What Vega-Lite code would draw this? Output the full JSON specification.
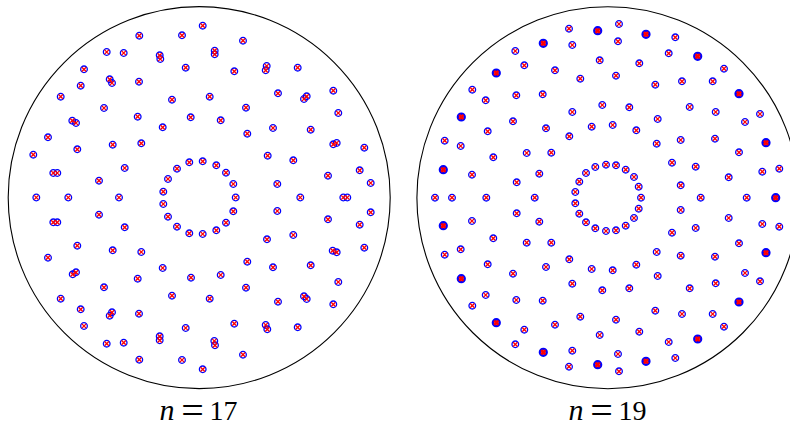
{
  "$schema": "https://vega.github.io/schema/vega-lite/v6.json",
  "width": 790,
  "height": 424,
  "padding": 0,
  "autosize": {"type": "none"},
  "background": "white",
  "config": {"view": {"stroke": null}},
  "datasets": {
    "discs": [
      {"n": 17, "x": 199.2, "y": 197.6},
      {"n": 19, "x": 607.9, "y": 197.7}
    ],
    "labels": [
      {"n": 17, "xn": 167, "xe": 192.5, "xd": 223.5, "y": 420, "num": "17"},
      {"n": 19, "xn": 576, "xe": 601.5, "xd": 632.5, "y": 420, "num": "19"}
    ],
    "points": [
      {"n":17,"x":202.7,"y":25.7,"m":1},{"n":17,"x":139.3,"y":35.7,"m":1},{"n":17,"x":182,"y":35.3,"m":1},{"n":17,"x":243,"y":40.7,"m":1},
      {"n":17,"x":106.7,"y":52,"m":1},{"n":17,"x":123.7,"y":53,"m":1},{"n":17,"x":159.7,"y":55.3,"m":1},{"n":17,"x":160.3,"y":59,"m":1},
      {"n":17,"x":214.7,"y":50.7,"m":1},{"n":17,"x":214.7,"y":54.3,"m":1},{"n":17,"x":84,"y":69.3,"m":1},{"n":17,"x":185.7,"y":67.7,"m":1},
      {"n":17,"x":234.3,"y":71.3,"m":1},{"n":17,"x":266.7,"y":66,"m":1},{"n":17,"x":265.7,"y":70.3,"m":1},{"n":17,"x":297.7,"y":67.7,"m":1},
      {"n":17,"x":80.7,"y":85.7,"m":1},{"n":17,"x":109.7,"y":79.3,"m":1},{"n":17,"x":112,"y":83,"m":1},{"n":17,"x":139,"y":81.7,"m":1},
      {"n":17,"x":60.7,"y":96.7,"m":1},{"n":17,"x":172,"y":99.7,"m":1},{"n":17,"x":209.7,"y":96.7,"m":1},{"n":17,"x":246,"y":107.7,"m":1},
      {"n":17,"x":278,"y":93.3,"m":1},{"n":17,"x":306.7,"y":96.3,"m":1},{"n":17,"x":304,"y":99,"m":1},{"n":17,"x":333.3,"y":90.7,"m":1},
      {"n":17,"x":338.3,"y":113,"m":1},{"n":17,"x":104,"y":108,"m":1},{"n":17,"x":137.7,"y":116.7,"m":1},{"n":17,"x":72.3,"y":120.7,"m":1},
      {"n":17,"x":76,"y":123,"m":1},{"n":17,"x":48,"y":137.3,"m":1},{"n":17,"x":77.3,"y":149.3,"m":1},{"n":17,"x":112.7,"y":144.7,"m":1},
      {"n":17,"x":141.3,"y":143.3,"m":1},{"n":17,"x":162.7,"y":127.3,"m":1},{"n":17,"x":190.7,"y":117.3,"m":1},{"n":17,"x":220.7,"y":120.3,"m":1},
      {"n":17,"x":247.3,"y":133.7,"m":1},{"n":17,"x":273,"y":128,"m":1},{"n":17,"x":310.7,"y":129.7,"m":1},{"n":17,"x":333.3,"y":144.3,"m":1},
      {"n":17,"x":336.7,"y":143,"m":1},{"n":17,"x":364.3,"y":147.7,"m":1},{"n":17,"x":33.3,"y":154.7,"m":1},{"n":17,"x":53.3,"y":173,"m":1},
      {"n":17,"x":57.3,"y":173,"m":1},{"n":17,"x":99,"y":180.7,"m":1},{"n":17,"x":124.7,"y":168,"m":1},{"n":17,"x":267.7,"y":155.7,"m":1},
      {"n":17,"x":293.3,"y":160.3,"m":1},{"n":17,"x":328,"y":175.7,"m":1},{"n":17,"x":359.7,"y":170.3,"m":1},{"n":17,"x":370.7,"y":183,"m":1},
      {"n":17,"x":277.3,"y":184,"m":1},{"n":17,"x":36.3,"y":197.5,"m":1},{"n":17,"x":68.3,"y":197.5,"m":1},{"n":17,"x":119,"y":197.5,"m":1},
      {"n":17,"x":300.3,"y":197.5,"m":1},{"n":17,"x":343.3,"y":197.5,"m":1},{"n":17,"x":347.3,"y":197.5,"m":1},
      {"n":17,"x":163.3,"y":191.7,"m":1},{"n":17,"x":168,"y":179,"m":1},{"n":17,"x":177,"y":168.7,"m":1},{"n":17,"x":189.3,"y":162.3,"m":1},
      {"n":17,"x":202.7,"y":161.3,"m":1},{"n":17,"x":216.3,"y":165.3,"m":1},{"n":17,"x":226,"y":172.7,"m":1},{"n":17,"x":233.3,"y":184,"m":1},
      {"n":17,"x":235.7,"y":197.5,"m":1},
      {"n":17,"x":163.3,"y":204,"m":1},{"n":17,"x":168,"y":216.7,"m":1},{"n":17,"x":177,"y":226.7,"m":1},{"n":17,"x":189.3,"y":233.3,"m":1},
      {"n":17,"x":202.7,"y":234,"m":1},{"n":17,"x":216.3,"y":230.3,"m":1},{"n":17,"x":226,"y":222.7,"m":1},{"n":17,"x":233.3,"y":211.3,"m":1},
      {"n":17,"x":99,"y":214.7,"m":1},{"n":17,"x":53.3,"y":222.3,"m":1},{"n":17,"x":57.3,"y":222.3,"m":1},{"n":17,"x":277.3,"y":211,"m":1},
      {"n":17,"x":328,"y":219.3,"m":1},{"n":17,"x":359.7,"y":224.7,"m":1},{"n":17,"x":370.7,"y":212.3,"m":1},{"n":17,"x":124.7,"y":227.3,"m":1},
      {"n":17,"x":293.3,"y":235,"m":1},{"n":17,"x":267,"y":239.3,"m":1},{"n":17,"x":77.3,"y":245.7,"m":1},{"n":17,"x":48,"y":257.7,"m":1},
      {"n":17,"x":112.7,"y":250.3,"m":1},{"n":17,"x":141.3,"y":252,"m":1},{"n":17,"x":332.7,"y":250.7,"m":1},{"n":17,"x":336.7,"y":252.3,"m":1},
      {"n":17,"x":364.3,"y":247.7,"m":1},{"n":17,"x":72.7,"y":274.3,"m":1},{"n":17,"x":76,"y":272.3,"m":1},{"n":17,"x":137.7,"y":278.7,"m":1},
      {"n":17,"x":162.7,"y":268,"m":1},{"n":17,"x":191,"y":277.7,"m":1},{"n":17,"x":220.7,"y":275,"m":1},{"n":17,"x":247.3,"y":261.7,"m":1},
      {"n":17,"x":273,"y":267.3,"m":1},{"n":17,"x":310.7,"y":265.3,"m":1},{"n":17,"x":104,"y":287.3,"m":1},{"n":17,"x":246,"y":287.7,"m":1},
      {"n":17,"x":338.3,"y":282,"m":1},{"n":17,"x":60.7,"y":298.7,"m":1},{"n":17,"x":172,"y":295.7,"m":1},{"n":17,"x":209.7,"y":298.7,"m":1},
      {"n":17,"x":278,"y":301.7,"m":1},{"n":17,"x":304,"y":296.3,"m":1},{"n":17,"x":306.7,"y":299,"m":1},{"n":17,"x":333.3,"y":304.3,"m":1},
      {"n":17,"x":80.7,"y":309.3,"m":1},{"n":17,"x":109.7,"y":315.7,"m":1},{"n":17,"x":112,"y":312.3,"m":1},{"n":17,"x":139,"y":313.7,"m":1},
      {"n":17,"x":84,"y":326,"m":1},{"n":17,"x":185.7,"y":328,"m":1},{"n":17,"x":234.3,"y":323.7,"m":1},{"n":17,"x":265.7,"y":325,"m":1},
      {"n":17,"x":267.3,"y":329.3,"m":1},{"n":17,"x":297.7,"y":327.3,"m":1},{"n":17,"x":106.7,"y":343.7,"m":1},{"n":17,"x":123.7,"y":342.7,"m":1},
      {"n":17,"x":159.7,"y":336.3,"m":1},{"n":17,"x":159.7,"y":340.3,"m":1},{"n":17,"x":214.3,"y":341,"m":1},{"n":17,"x":215,"y":345.3,"m":1},
      {"n":17,"x":243,"y":354.7,"m":1},{"n":17,"x":139.3,"y":359.7,"m":1},{"n":17,"x":182,"y":360,"m":1},{"n":17,"x":202.7,"y":369.3,"m":1},

      {"n":19,"x":619,"y":24,"m":1},{"n":19,"x":569,"y":28.7,"m":1},{"n":19,"x":597.7,"y":30.7,"m":2},{"n":19,"x":646,"y":34.3,"m":2},
      {"n":19,"x":675.3,"y":37.3,"m":1},{"n":19,"x":543.3,"y":43.3,"m":2},{"n":19,"x":572.3,"y":45,"m":1},{"n":19,"x":618,"y":41.3,"m":1},
      {"n":19,"x":515.3,"y":51,"m":1},{"n":19,"x":668.7,"y":53.3,"m":1},{"n":19,"x":697.7,"y":56.3,"m":2},{"n":19,"x":524.3,"y":65.3,"m":1},
      {"n":19,"x":599.7,"y":60.3,"m":1},{"n":19,"x":639.3,"y":63.3,"m":1},{"n":19,"x":724,"y":68.7,"m":1},{"n":19,"x":496.3,"y":73,"m":2},
      {"n":19,"x":555,"y":70.3,"m":1},{"n":19,"x":580.3,"y":78.7,"m":1},{"n":19,"x":616,"y":75.7,"m":1},{"n":19,"x":472.3,"y":89.7,"m":1},
      {"n":19,"x":485.7,"y":100.3,"m":1},{"n":19,"x":516.3,"y":95.3,"m":1},{"n":19,"x":542.7,"y":94.3,"m":1},{"n":19,"x":655.3,"y":84.7,"m":1},
      {"n":19,"x":682,"y":81.3,"m":1},{"n":19,"x":712.7,"y":81.3,"m":1},{"n":19,"x":739,"y":93.7,"m":2},{"n":19,"x":461.3,"y":117,"m":2},
      {"n":19,"x":572.3,"y":112,"m":1},{"n":19,"x":602.3,"y":105,"m":1},{"n":19,"x":629.3,"y":107.3,"m":1},{"n":19,"x":689.7,"y":107,"m":1},
      {"n":19,"x":715.7,"y":112,"m":1},{"n":19,"x":760,"y":114,"m":1},{"n":19,"x":513,"y":121.3,"m":1},{"n":19,"x":487.7,"y":131.3,"m":1},
      {"n":19,"x":546,"y":128.3,"m":1},{"n":19,"x":591.7,"y":126.7,"m":1},{"n":19,"x":612.7,"y":125,"m":1},{"n":19,"x":636.3,"y":130.3,"m":1},
      {"n":19,"x":657.7,"y":119,"m":1},{"n":19,"x":745,"y":122,"m":1},{"n":19,"x":444.7,"y":140.7,"m":1},{"n":19,"x":460.7,"y":146,"m":1},
      {"n":19,"x":569.3,"y":136.3,"m":1},{"n":19,"x":656.7,"y":143.7,"m":1},{"n":19,"x":680.7,"y":140,"m":1},{"n":19,"x":715,"y":138.7,"m":1},
      {"n":19,"x":766,"y":142.7,"m":2},{"n":19,"x":493.3,"y":157.3,"m":1},{"n":19,"x":526.7,"y":153,"m":1},{"n":19,"x":551.3,"y":152.7,"m":1},
      {"n":19,"x":739,"y":152.3,"m":1},{"n":19,"x":443.3,"y":169.7,"m":2},{"n":19,"x":472,"y":174.7,"m":1},{"n":19,"x":539.3,"y":173.7,"m":1},
      {"n":19,"x":672,"y":162.7,"m":1},{"n":19,"x":695.7,"y":166.7,"m":1},{"n":19,"x":728.7,"y":177.3,"m":1},{"n":19,"x":762.3,"y":171.7,"m":1},
      {"n":19,"x":779.3,"y":168.7,"m":1},{"n":19,"x":516.7,"y":182.3,"m":1},{"n":19,"x":680.7,"y":185.3,"m":1},
      {"n":19,"x":435,"y":197.7,"m":1},{"n":19,"x":452,"y":197.7,"m":1},{"n":19,"x":486.3,"y":197.7,"m":1},{"n":19,"x":534.7,"y":197.7,"m":1},
      {"n":19,"x":700.7,"y":197.7,"m":1},{"n":19,"x":746.7,"y":197.7,"m":1},{"n":19,"x":775.7,"y":197.7,"m":2},
      {"n":19,"x":575.3,"y":192,"m":1},{"n":19,"x":579.3,"y":181.7,"m":1},{"n":19,"x":586,"y":173,"m":1},{"n":19,"x":595.3,"y":167,"m":1},
      {"n":19,"x":606,"y":164.7,"m":1},{"n":19,"x":616,"y":165.3,"m":1},{"n":19,"x":625.7,"y":169.7,"m":1},{"n":19,"x":634,"y":177,"m":1},
      {"n":19,"x":638.7,"y":186.7,"m":1},{"n":19,"x":641,"y":197.7,"m":1},
      {"n":19,"x":575.3,"y":203.3,"m":1},{"n":19,"x":579.3,"y":213.7,"m":1},{"n":19,"x":586,"y":222.3,"m":1},{"n":19,"x":595.3,"y":228.3,"m":1},
      {"n":19,"x":606,"y":231,"m":1},{"n":19,"x":616,"y":230.3,"m":1},{"n":19,"x":625.7,"y":225.7,"m":1},{"n":19,"x":634,"y":218,"m":1},
      {"n":19,"x":638.7,"y":208.7,"m":1},
      {"n":19,"x":516.7,"y":213.3,"m":1},{"n":19,"x":680.7,"y":210,"m":1},{"n":19,"x":443.3,"y":225.7,"m":2},{"n":19,"x":472,"y":221,"m":1},
      {"n":19,"x":539.3,"y":221.7,"m":1},{"n":19,"x":672,"y":232.7,"m":1},{"n":19,"x":695.7,"y":228,"m":1},{"n":19,"x":728.7,"y":218,"m":1},
      {"n":19,"x":762.3,"y":224,"m":1},{"n":19,"x":779.3,"y":226.7,"m":1},{"n":19,"x":493.3,"y":238.3,"m":1},{"n":19,"x":526.7,"y":242.7,"m":1},
      {"n":19,"x":551.3,"y":242.7,"m":1},{"n":19,"x":739,"y":243.3,"m":1},{"n":19,"x":444.7,"y":254.7,"m":1},{"n":19,"x":460.7,"y":249.3,"m":1},
      {"n":19,"x":569.3,"y":259.3,"m":1},{"n":19,"x":656.7,"y":252,"m":1},{"n":19,"x":680.7,"y":255.7,"m":1},{"n":19,"x":715,"y":256.7,"m":1},
      {"n":19,"x":766,"y":252.7,"m":2},{"n":19,"x":487.7,"y":264.3,"m":1},{"n":19,"x":513,"y":273.7,"m":1},{"n":19,"x":546,"y":267,"m":1},
      {"n":19,"x":591.7,"y":269,"m":1},{"n":19,"x":612.7,"y":270.3,"m":1},{"n":19,"x":636.3,"y":264.7,"m":1},{"n":19,"x":657.7,"y":276,"m":1},
      {"n":19,"x":745,"y":273,"m":1},{"n":19,"x":461.3,"y":278.7,"m":2},{"n":19,"x":572.3,"y":283.7,"m":1},{"n":19,"x":602.3,"y":290.3,"m":1},
      {"n":19,"x":629.3,"y":288.3,"m":1},{"n":19,"x":689.7,"y":288.3,"m":1},{"n":19,"x":715.7,"y":283.3,"m":1},{"n":19,"x":760,"y":281.3,"m":1},
      {"n":19,"x":739,"y":302,"m":2},{"n":19,"x":472.3,"y":305.7,"m":1},{"n":19,"x":485.7,"y":295,"m":1},{"n":19,"x":516.3,"y":300,"m":1},
      {"n":19,"x":542.7,"y":300.7,"m":1},{"n":19,"x":655.3,"y":310.7,"m":1},{"n":19,"x":682,"y":314,"m":1},{"n":19,"x":712.7,"y":314,"m":1},
      {"n":19,"x":496.3,"y":322.7,"m":2},{"n":19,"x":555,"y":324.7,"m":1},{"n":19,"x":580.3,"y":316.7,"m":1},{"n":19,"x":616,"y":319.7,"m":1},
      {"n":19,"x":524.3,"y":329.7,"m":1},{"n":19,"x":599.7,"y":335,"m":1},{"n":19,"x":639.3,"y":331.7,"m":1},{"n":19,"x":724,"y":326.7,"m":1},
      {"n":19,"x":515.3,"y":344.3,"m":1},{"n":19,"x":668.7,"y":342,"m":1},{"n":19,"x":697.7,"y":339,"m":2},{"n":19,"x":543.3,"y":352.3,"m":2},
      {"n":19,"x":572.3,"y":350.7,"m":1},{"n":19,"x":618,"y":354,"m":1},{"n":19,"x":569,"y":366.7,"m":1},{"n":19,"x":597.7,"y":364.7,"m":2},
      {"n":19,"x":646,"y":361.3,"m":2},{"n":19,"x":675.3,"y":358,"m":1},{"n":19,"x":619,"y":371.3,"m":1}
    ]
  },
  "layer": [
    {
      "data": {"name": "discs"},
      "mark": {"type": "point", "shape": "circle", "filled": false, "stroke": "black", "strokeWidth": 1.1, "opacity": 1, "size": 145924, "clip": true},
      "encoding": {
        "x": {"field": "x", "type": "quantitative", "scale": {"domain": [0, 790], "nice": false, "zero": false}, "axis": null},
        "y": {"field": "y", "type": "quantitative", "scale": {"domain": [0, 424], "nice": false, "zero": false, "reverse": true}, "axis": null}
      }
    },
    {
      "data": {"name": "points"},
      "mark": {"type": "point", "shape": "circle", "filled": false, "stroke": "#0000ff", "opacity": 1, "size": 44},
      "encoding": {
        "x": {"field": "x", "type": "quantitative", "scale": {"domain": [0, 790], "nice": false, "zero": false}, "axis": null},
        "y": {"field": "y", "type": "quantitative", "scale": {"domain": [0, 424], "nice": false, "zero": false, "reverse": true}, "axis": null},
        "strokeWidth": {"field": "m", "type": "quantitative", "scale": {"domain": [1, 2], "range": [1.3, 2.6]}, "legend": null}
      }
    },
    {
      "data": {"name": "points"},
      "mark": {"type": "point", "shape": "M-1,-1L1,1M-1,1L1,-1", "filled": false, "stroke": "#ff0000", "opacity": 1, "size": 18},
      "encoding": {
        "x": {"field": "x", "type": "quantitative", "scale": {"domain": [0, 790], "nice": false, "zero": false}, "axis": null},
        "y": {"field": "y", "type": "quantitative", "scale": {"domain": [0, 424], "nice": false, "zero": false, "reverse": true}, "axis": null},
        "strokeWidth": {"field": "m", "type": "quantitative", "scale": {"domain": [1, 2], "range": [1.3, 2.6]}, "legend": null}
      }
    },
    {
      "data": {"name": "labels"},
      "mark": {"type": "text", "text": "n", "font": "Liberation Serif", "fontStyle": "italic", "fontSize": 30, "baseline": "alphabetic", "align": "center", "color": "black"},
      "encoding": {
        "x": {"field": "xn", "type": "quantitative", "scale": {"domain": [0, 790], "nice": false, "zero": false}, "axis": null},
        "y": {"field": "y", "type": "quantitative", "scale": {"domain": [0, 424], "nice": false, "zero": false, "reverse": true}, "axis": null}
      }
    },
    {
      "data": {"name": "labels"},
      "mark": {"type": "text", "text": "=", "font": "Liberation Serif", "fontSize": 40, "dy": 4, "baseline": "alphabetic", "align": "center", "color": "black"},
      "encoding": {
        "x": {"field": "xe", "type": "quantitative", "scale": {"domain": [0, 790], "nice": false, "zero": false}, "axis": null},
        "y": {"field": "y", "type": "quantitative", "scale": {"domain": [0, 424], "nice": false, "zero": false, "reverse": true}, "axis": null}
      }
    },
    {
      "data": {"name": "labels"},
      "mark": {"type": "text", "font": "Liberation Serif", "fontSize": 28, "baseline": "alphabetic", "align": "center", "color": "black"},
      "encoding": {
        "x": {"field": "xd", "type": "quantitative", "scale": {"domain": [0, 790], "nice": false, "zero": false}, "axis": null},
        "y": {"field": "y", "type": "quantitative", "scale": {"domain": [0, 424], "nice": false, "zero": false, "reverse": true}, "axis": null},
        "text": {"field": "num", "type": "nominal"}
      }
    }
  ]
}
